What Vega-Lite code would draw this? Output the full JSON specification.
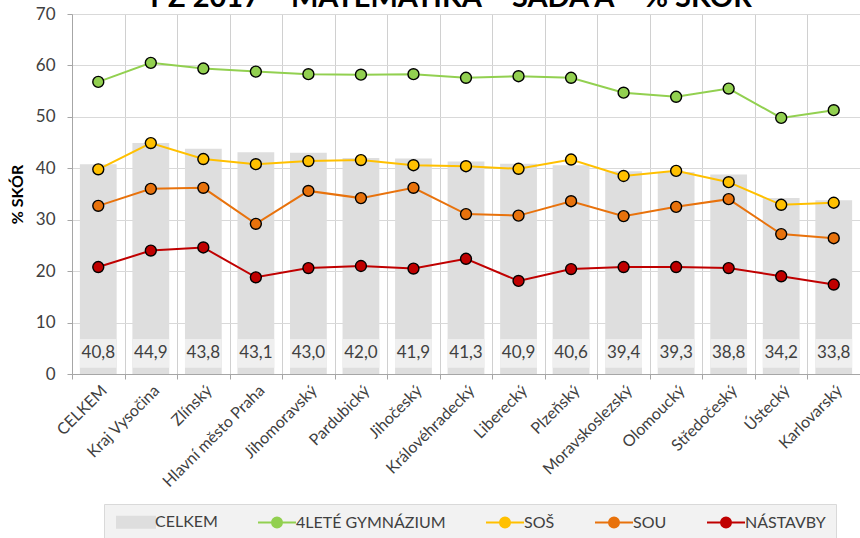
{
  "$schema": "https://vega.github.io/schema/vega-lite/v6.json",
  "width": 788,
  "height": 360,
  "autosize": {"type": "none"},
  "padding": {"top": 14, "left": 72, "right": 0, "bottom": 164},
  "background": "white",
  "config": {
    "font": "Lato",
    "locale": {"number": {"decimal": ",", "thousands": " ", "grouping": [3], "currency": ["", ""]}},
    "view": {"stroke": null},
    "legend": {
      "orient": "none",
      "legendX": 32,
      "legendY": 490,
      "direction": "horizontal",
      "columns": 5,
      "fillColor": "#f2f2f2",
      "strokeColor": "#d9d9d9",
      "padding": 10,
      "labelFontSize": 16,
      "labelColor": "#404040",
      "symbolSize": 100,
      "symbolOffset": 14,
      "labelOffset": 11,
      "columnPadding": 36,
      "symbolStrokeWidth": 2
    }
  },
  "datasets": {
    "heading": [
      {"title": "PZ 2017 – MATEMATIKA – SADA A – % SKÓR", "region": "Královéhradecký"}
    ],
    "bars": [
      {"region": "CELKEM", "celkem": 40.8},
      {"region": "Kraj Vysočina", "celkem": 44.9},
      {"region": "Zlínský", "celkem": 43.8},
      {"region": "Hlavní město Praha", "celkem": 43.1},
      {"region": "Jihomoravský", "celkem": 43.0},
      {"region": "Pardubický", "celkem": 42.0},
      {"region": "Jihočeský", "celkem": 41.9},
      {"region": "Královéhradecký", "celkem": 41.3},
      {"region": "Liberecký", "celkem": 40.9},
      {"region": "Plzeňský", "celkem": 40.6},
      {"region": "Moravskoslezský", "celkem": 39.4},
      {"region": "Olomoucký", "celkem": 39.3},
      {"region": "Středočeský", "celkem": 38.8},
      {"region": "Ústecký", "celkem": 34.2},
      {"region": "Karlovarský", "celkem": 33.8}
    ],
    "lines": [
      {"region": "CELKEM", "series": "4LETÉ GYMNÁZIUM", "value": 56.8},
      {"region": "Kraj Vysočina", "series": "4LETÉ GYMNÁZIUM", "value": 60.5},
      {"region": "Zlínský", "series": "4LETÉ GYMNÁZIUM", "value": 59.4},
      {"region": "Hlavní město Praha", "series": "4LETÉ GYMNÁZIUM", "value": 58.8},
      {"region": "Jihomoravský", "series": "4LETÉ GYMNÁZIUM", "value": 58.3},
      {"region": "Pardubický", "series": "4LETÉ GYMNÁZIUM", "value": 58.2},
      {"region": "Jihočeský", "series": "4LETÉ GYMNÁZIUM", "value": 58.3},
      {"region": "Královéhradecký", "series": "4LETÉ GYMNÁZIUM", "value": 57.6},
      {"region": "Liberecký", "series": "4LETÉ GYMNÁZIUM", "value": 57.9},
      {"region": "Plzeňský", "series": "4LETÉ GYMNÁZIUM", "value": 57.6},
      {"region": "Moravskoslezský", "series": "4LETÉ GYMNÁZIUM", "value": 54.7},
      {"region": "Olomoucký", "series": "4LETÉ GYMNÁZIUM", "value": 53.9},
      {"region": "Středočeský", "series": "4LETÉ GYMNÁZIUM", "value": 55.5},
      {"region": "Ústecký", "series": "4LETÉ GYMNÁZIUM", "value": 49.8},
      {"region": "Karlovarský", "series": "4LETÉ GYMNÁZIUM", "value": 51.3},
      {"region": "CELKEM", "series": "SOŠ", "value": 39.8},
      {"region": "Kraj Vysočina", "series": "SOŠ", "value": 44.9},
      {"region": "Zlínský", "series": "SOŠ", "value": 41.8},
      {"region": "Hlavní město Praha", "series": "SOŠ", "value": 40.8},
      {"region": "Jihomoravský", "series": "SOŠ", "value": 41.4},
      {"region": "Pardubický", "series": "SOŠ", "value": 41.6},
      {"region": "Jihočeský", "series": "SOŠ", "value": 40.6},
      {"region": "Královéhradecký", "series": "SOŠ", "value": 40.4},
      {"region": "Liberecký", "series": "SOŠ", "value": 39.9},
      {"region": "Plzeňský", "series": "SOŠ", "value": 41.7},
      {"region": "Moravskoslezský", "series": "SOŠ", "value": 38.5},
      {"region": "Olomoucký", "series": "SOŠ", "value": 39.5},
      {"region": "Středočeský", "series": "SOŠ", "value": 37.3},
      {"region": "Ústecký", "series": "SOŠ", "value": 32.9},
      {"region": "Karlovarský", "series": "SOŠ", "value": 33.3},
      {"region": "CELKEM", "series": "SOU", "value": 32.7},
      {"region": "Kraj Vysočina", "series": "SOU", "value": 36.0},
      {"region": "Zlínský", "series": "SOU", "value": 36.2},
      {"region": "Hlavní město Praha", "series": "SOU", "value": 29.2},
      {"region": "Jihomoravský", "series": "SOU", "value": 35.6},
      {"region": "Pardubický", "series": "SOU", "value": 34.2},
      {"region": "Jihočeský", "series": "SOU", "value": 36.2},
      {"region": "Královéhradecký", "series": "SOU", "value": 31.1},
      {"region": "Liberecký", "series": "SOU", "value": 30.8},
      {"region": "Plzeňský", "series": "SOU", "value": 33.6},
      {"region": "Moravskoslezský", "series": "SOU", "value": 30.7},
      {"region": "Olomoucký", "series": "SOU", "value": 32.5},
      {"region": "Středočeský", "series": "SOU", "value": 34.0},
      {"region": "Ústecký", "series": "SOU", "value": 27.2},
      {"region": "Karlovarský", "series": "SOU", "value": 26.4},
      {"region": "CELKEM", "series": "NÁSTAVBY", "value": 20.8},
      {"region": "Kraj Vysočina", "series": "NÁSTAVBY", "value": 24.0},
      {"region": "Zlínský", "series": "NÁSTAVBY", "value": 24.6},
      {"region": "Hlavní město Praha", "series": "NÁSTAVBY", "value": 18.8},
      {"region": "Jihomoravský", "series": "NÁSTAVBY", "value": 20.6},
      {"region": "Pardubický", "series": "NÁSTAVBY", "value": 21.0},
      {"region": "Jihočeský", "series": "NÁSTAVBY", "value": 20.5},
      {"region": "Královéhradecký", "series": "NÁSTAVBY", "value": 22.4},
      {"region": "Liberecký", "series": "NÁSTAVBY", "value": 18.1},
      {"region": "Plzeňský", "series": "NÁSTAVBY", "value": 20.4},
      {"region": "Moravskoslezský", "series": "NÁSTAVBY", "value": 20.8},
      {"region": "Olomoucký", "series": "NÁSTAVBY", "value": 20.8},
      {"region": "Středočeský", "series": "NÁSTAVBY", "value": 20.6},
      {"region": "Ústecký", "series": "NÁSTAVBY", "value": 19.0},
      {"region": "Karlovarský", "series": "NÁSTAVBY", "value": 17.4}
    ]
  },
  "encoding": {
    "x": {
      "field": "region",
      "type": "nominal",
      "sort": ["CELKEM", "Kraj Vysočina", "Zlínský", "Hlavní město Praha", "Jihomoravský", "Pardubický", "Jihočeský", "Královéhradecký", "Liberecký", "Plzeňský", "Moravskoslezský", "Olomoucký", "Středočeský", "Ústecký", "Karlovarský"],
      "scale": {"paddingInner": 0, "paddingOuter": 0},
      "axis": {
        "title": null,
        "labelAngle": -45,
        "labelFontSize": 16,
        "labelColor": "#404040",
        "labelPadding": 3,
        "tickBand": "extent",
        "grid": true,
        "gridColor": "#d0d0d0",
        "domainColor": "#a6a6a6",
        "tickColor": "#a6a6a6",
        "tickSize": 5
      }
    }
  },
  "layer": [
    {
      "data": {"name": "bars"},
      "mark": {"type": "bar", "width": {"band": 0.7}},
      "encoding": {
        "y": {
          "field": "celkem",
          "type": "quantitative",
          "scale": {"domain": [0, 70], "nice": false},
          "axis": {
            "title": "% SKÓR",
            "titleFontSize": 16,
            "titleFontWeight": "bold",
            "titleColor": "#000000",
            "titlePadding": 10,
            "labelFontSize": 17,
            "labelColor": "#404040",
            "labelPadding": 12,
            "values": [0, 10, 20, 30, 40, 50, 60, 70],
            "grid": true,
            "gridColor": "#d9d9d9",
            "domainColor": "#a6a6a6",
            "tickColor": "#a6a6a6",
            "tickSize": 5
          }
        },
        "color": {
          "datum": "CELKEM",
          "title": null,
          "scale": {
            "domain": ["CELKEM", "4LETÉ GYMNÁZIUM", "SOŠ", "SOU", "NÁSTAVBY"],
            "range": ["#dedede", "#92d050", "#ffc000", "#e8720c", "#c00000"]
          },
          "legend": {
            "title": null,
            "encode": {
              "symbols": {
                "update": {
                  "shape": {"signal": "datum.value === 'CELKEM' ? 'M-3.8,-1.1H3.8V1.1H-3.8Z' : 'M-3.8,0H-1M1,0H3.8M1,0A1,1 0 1 1 -1,0A1,1 0 1 1 1,0Z'"},
                  "fill": {"scale": "color", "field": "value"},
                  "stroke": {"scale": "color", "field": "value"},
                  "strokeWidth": {"value": 2},
                  "opacity": {"value": 1}
                }
              }
            }
          }
        }
      }
    },
    {
      "data": {"name": "bars"},
      "mark": {"type": "bar", "width": {"band": 0.7}, "color": "#efefef"},
      "encoding": {
        "y": {"datum": 1.2, "type": "quantitative"},
        "y2": {"datum": 6.8}
      }
    },
    {
      "data": {"name": "bars"},
      "mark": {"type": "text", "fontSize": 17, "color": "#404040", "baseline": "middle"},
      "encoding": {
        "y": {"datum": 4, "type": "quantitative"},
        "text": {"field": "celkem", "type": "quantitative", "format": ".1f"}
      }
    },
    {
      "data": {"name": "lines"},
      "mark": {"type": "line", "strokeWidth": 2},
      "encoding": {
        "y": {"field": "value", "type": "quantitative"},
        "color": {"field": "series", "type": "nominal", "title": null, "legend": {"title": null}}
      }
    },
    {
      "data": {"name": "lines"},
      "mark": {"type": "point", "filled": true, "size": 120, "stroke": "#000000", "strokeWidth": 1.4, "opacity": 1},
      "encoding": {
        "y": {"field": "value", "type": "quantitative"},
        "color": {"field": "series", "type": "nominal", "title": null, "legend": {"title": null}}
      }
    },
    {
      "data": {"name": "heading"},
      "mark": {"type": "text", "fontSize": 29, "fontWeight": "bold", "color": "#000000", "baseline": "alphabetic", "align": "center", "dx": -15},
      "encoding": {
        "y": {"datum": 71.36, "type": "quantitative"},
        "text": {"field": "title", "type": "nominal"}
      }
    }
  ]
}
